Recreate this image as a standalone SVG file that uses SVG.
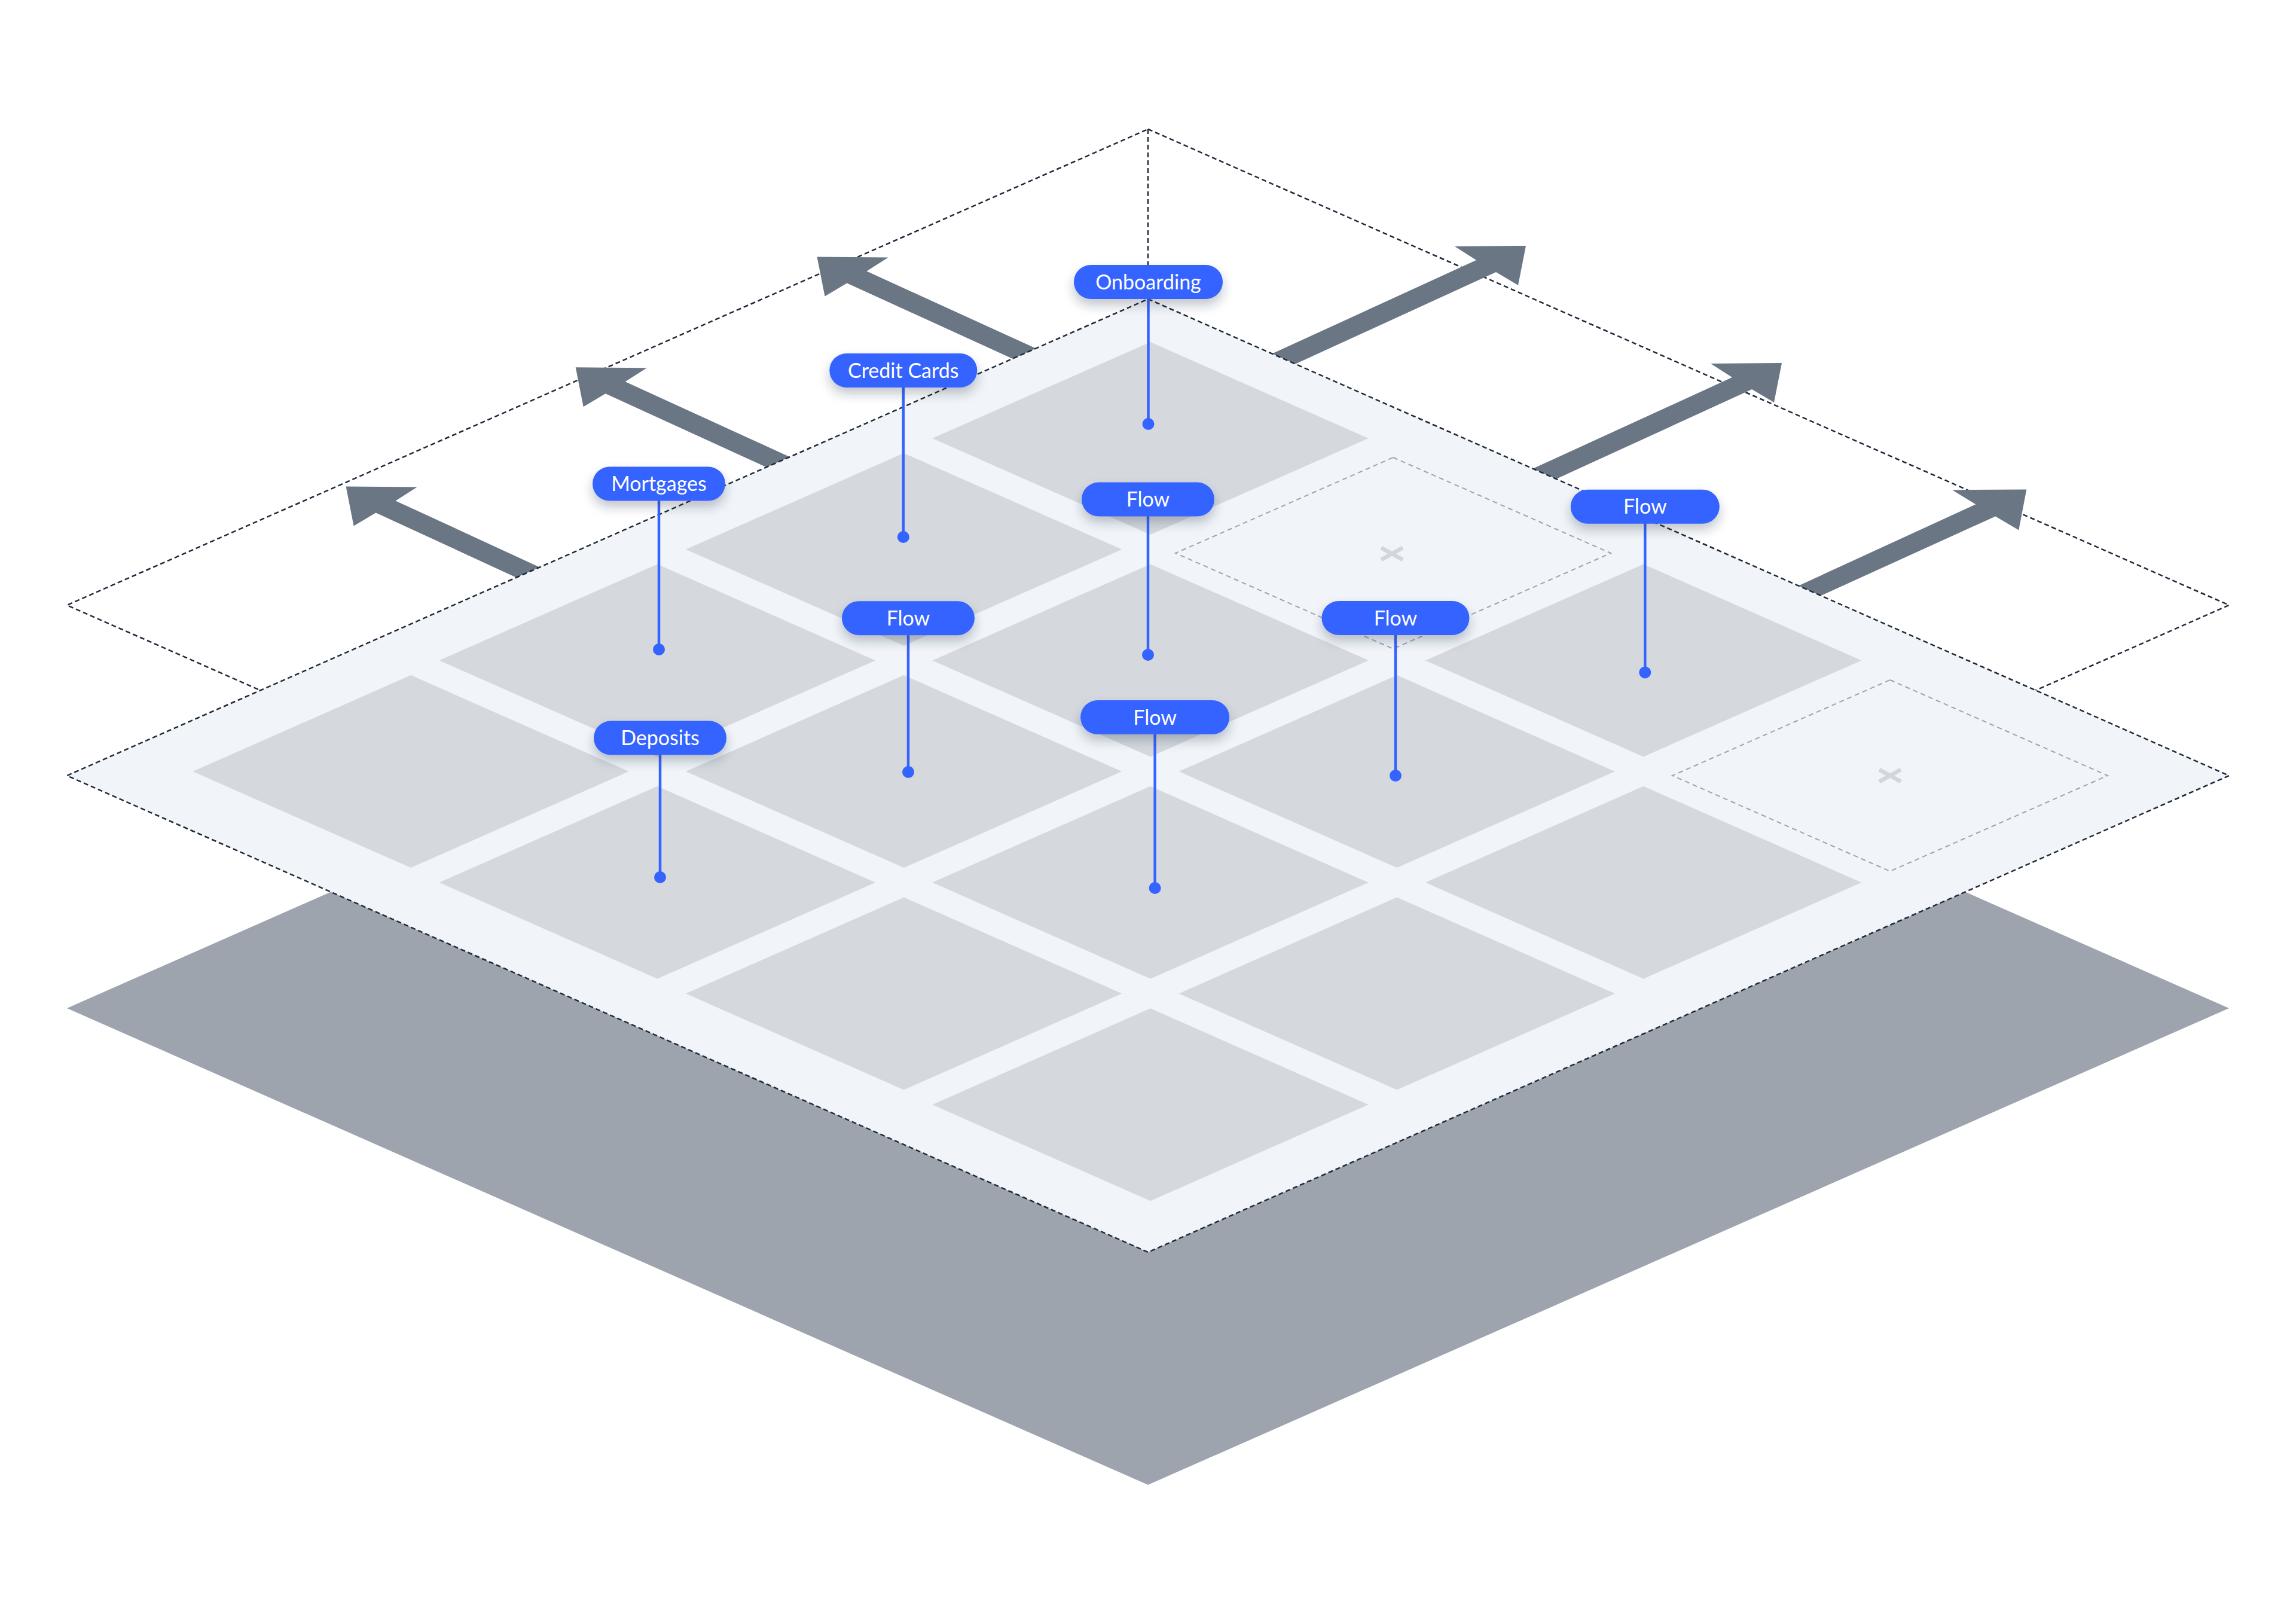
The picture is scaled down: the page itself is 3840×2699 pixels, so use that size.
<svg xmlns="http://www.w3.org/2000/svg" xmlns:xlink="http://www.w3.org/1999/xlink" width="3840" height="2699" viewBox="0 0 3840 2699">
<style>
.dash{fill:none;stroke:#1f2a3a;stroke-width:2.5;stroke-dasharray:8 5}
.ghost{fill:none;stroke:#9ea4ad;stroke-width:2;stroke-dasharray:8 6}
.tile{fill:#d5d9de}
.arrow{fill:#6b7685}
.pill{fill:#3563ff;filter:url(#sh)}
.lbl{font-family:Lato,"Open Sans",sans-serif;font-size:34px;fill:#ffffff;text-anchor:middle}
.lead{stroke:#3563ff;stroke-width:4.5;fill:none}
.dot{fill:#3563ff}
.xm{stroke:#d3d7dc;stroke-width:7;stroke-linecap:butt}
</style>
<defs>
<filter id="sh" x="-30%" y="-50%" width="160%" height="220%">
<feDropShadow dx="0" dy="10" stdDeviation="9" flood-color="#1c2a44" flood-opacity="0.28"/>
</filter>
<polygon id="t" points="0,0 364.7,161 0,322 -364.7,161"/>
<polygon id="g" points="0,-160 364,0 0,160 -364,0"/>
</defs>
<rect width="3840" height="2699" fill="#ffffff"/>

<!-- upper dashed plane -->
<g id="upper-plane">
<polygon class="dash" points="1920,216 3728,1012 1920,1808 112,1012"/>
<line class="dash" x1="1920" y1="216" x2="1920" y2="500"/>
</g>

<!-- arrows -->
<g id="arrows">
<polygon class="arrow" transform="translate(578.6,813.4)" points="0,0 119,1 83,24 352,148 319,168 50,44 13,66"/>
<polygon class="arrow" transform="translate(962.7,614.3)" points="0,0 119,1 83,24 387,163 354,183 50,44 13,66"/>
<polygon class="arrow" transform="translate(1366.5,429.5)" points="0,0 119,1 83,24 392,165 359,185 50,44 13,66"/>
<polygon class="arrow" transform="translate(2552,411)" points="0,0 -119,1 -83,24 -465,199 -432,219 -50,44 -13,66"/>
<polygon class="arrow" transform="translate(2980,607)" points="0,0 -119,1 -83,24 -465,199 -432,219 -50,44 -13,66"/>
<polygon class="arrow" transform="translate(3389.3,818.4)" points="0,0 -124,1 -85,25 -440,188 -406,206 -52,45 -13,68"/>
</g>

<!-- base and platform -->
<g id="base">
<polygon fill="#9da4ae" points="1920,889 3728,1686 1920,2483 112,1686"/>
</g>
<g id="platform">
<polygon fill="#f1f4f8" points="1920,500 3728,1297 1920,2094 112,1297"/>
<polygon class="dash" points="1920,500 3728,1297 1920,2094 112,1297"/>
</g>

<!-- tiles -->
<g id="tiles">
<use href="#t" class="tile" x="1924" y="572"/>
<use href="#t" class="tile" x="1511.7" y="757.7"/>
<use href="#t" class="tile" x="1099.4" y="943.4"/>
<use href="#t" class="tile" x="687.1" y="1129.1"/>
<use href="#t" class="tile" x="1924" y="943.4"/>
<use href="#t" class="tile" x="1511.7" y="1129.1"/>
<use href="#t" class="tile" x="1099.4" y="1314.8"/>
<use href="#t" class="tile" x="2748.6" y="943.4"/>
<use href="#t" class="tile" x="2336.3" y="1129.1"/>
<use href="#t" class="tile" x="1924" y="1314.8"/>
<use href="#t" class="tile" x="1511.7" y="1500.5"/>
<use href="#t" class="tile" x="2748.6" y="1314.8"/>
<use href="#t" class="tile" x="2336.3" y="1500.5"/>
<use href="#t" class="tile" x="1924" y="1686.2"/>
</g>
<g id="empty-1">
<use href="#g" class="ghost" x="2330" y="925"/>
<g transform="translate(2328,926)"><line class="xm" x1="-18" y1="-10" x2="18" y2="10"/><line class="xm" x1="18" y1="-10" x2="-18" y2="10"/></g>
</g>
<g id="empty-2">
<use href="#g" class="ghost" x="3161" y="1297"/>
<g transform="translate(3161,1297)"><line class="xm" x1="-18" y1="-10" x2="18" y2="10"/><line class="xm" x1="18" y1="-10" x2="-18" y2="10"/></g>
</g>

<!-- connectors -->
<g id="connectors">
<line class="lead" x1="1920.5" y1="498" x2="1920.5" y2="709"/><circle class="dot" cx="1920.5" cy="709" r="10"/>
<line class="lead" x1="1510.8" y1="646" x2="1510.8" y2="898"/><circle class="dot" cx="1510.8" cy="898" r="10"/>
<line class="lead" x1="1102" y1="836" x2="1102" y2="1086"/><circle class="dot" cx="1102" cy="1086" r="10"/>
<line class="lead" x1="1519" y1="1060" x2="1519" y2="1291"/><circle class="dot" cx="1519" cy="1291" r="10"/>
<line class="lead" x1="1104" y1="1260" x2="1104" y2="1467"/><circle class="dot" cx="1104" cy="1467" r="10"/>
<line class="lead" x1="1920" y1="861" x2="1920" y2="1095"/><circle class="dot" cx="1920" cy="1095" r="10"/>
<line class="lead" x1="2334" y1="1060" x2="2334" y2="1297"/><circle class="dot" cx="2334" cy="1297" r="10"/>
<line class="lead" x1="1931.6" y1="1226" x2="1931.6" y2="1485"/><circle class="dot" cx="1931.6" cy="1485" r="10"/>
<line class="lead" x1="2751.3" y1="874" x2="2751.3" y2="1124.5"/><circle class="dot" cx="2751.3" cy="1124.5" r="10"/>
</g>

<!-- labels -->
<g id="onboarding"><rect class="pill" x="1796" y="443" width="249" height="57" rx="28.5"/><text class="lbl" x="1920.5" y="483.5">Onboarding</text></g>
<g id="credit-cards"><rect class="pill" x="1387.3" y="591" width="247" height="57" rx="28.5"/><text class="lbl" x="1510.8" y="631.6">Credit Cards</text></g>
<g id="mortgages"><rect class="pill" x="991" y="780.5" width="222" height="57" rx="28.5"/><text class="lbl" x="1102" y="821">Mortgages</text></g>
<g id="flow-1"><rect class="pill" x="1408" y="1005.2" width="222" height="57" rx="28.5"/><text class="lbl" x="1519" y="1045.7">Flow</text></g>
<g id="deposits"><rect class="pill" x="993" y="1205.5" width="222" height="57" rx="28.5"/><text class="lbl" x="1104" y="1246">Deposits</text></g>
<g id="flow-2"><rect class="pill" x="1809" y="806.5" width="222" height="57" rx="28.5"/><text class="lbl" x="1920" y="847">Flow</text></g>
<g id="flow-3"><rect class="pill" x="2210.5" y="1005" width="247" height="57" rx="28.5"/><text class="lbl" x="2334" y="1045.5">Flow</text></g>
<g id="flow-4"><rect class="pill" x="1807.1" y="1171" width="249" height="57" rx="28.5"/><text class="lbl" x="1931.6" y="1211.5">Flow</text></g>
<g id="flow-5"><rect class="pill" x="2626.8" y="818.7" width="249" height="57" rx="28.5"/><text class="lbl" x="2751.3" y="859.2">Flow</text></g>
</svg>
